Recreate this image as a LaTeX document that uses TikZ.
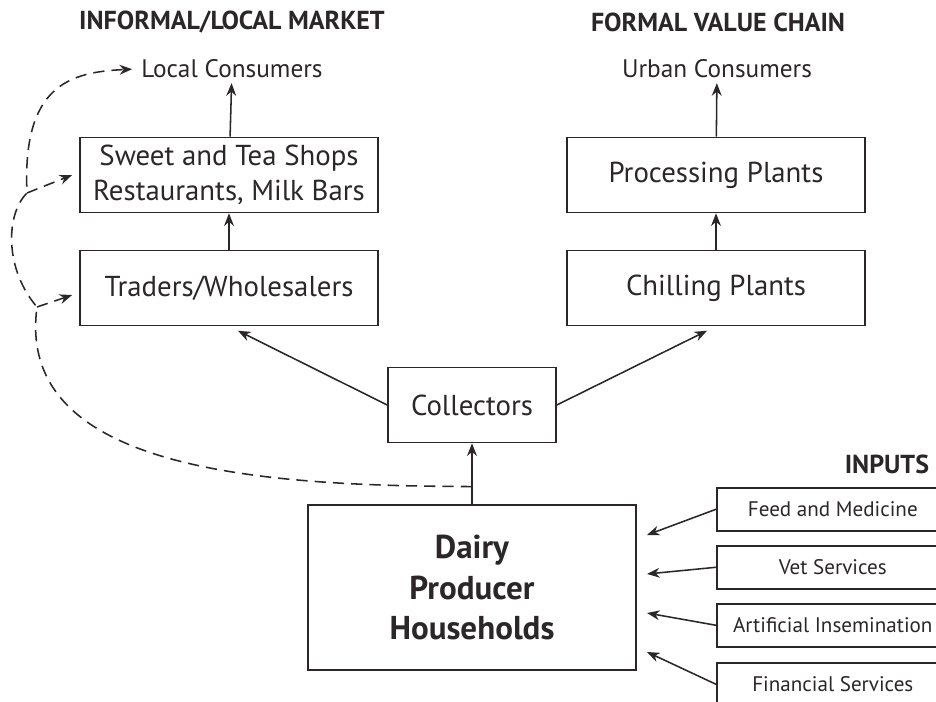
\documentclass[tikz,border=0pt]{standalone}
\usepackage{fontspec}
\setmainfont{PT Sans}
\usetikzlibrary{arrows.meta,calc}

\begin{document}
\begin{tikzpicture}[x=0.025cm,y=-0.025cm,
  box/.style={draw=ink, line width=1.1pt, align=center, text=ink,
    minimum width=7.45cm, minimum height=1.875cm, font=\fontsize{20.5}{25}\selectfont},
  inbox/.style={draw=ink, line width=1.1pt, text=ink, anchor=north west,
    minimum width=5.8cm, minimum height=1.075cm, font=\fontsize{15}{18}\selectfont},
  head/.style={text=ink, font=\fontsize{18.5}{22}\selectfont\bfseries},
  cons/.style={text=ink, font=\fontsize{18}{22}\selectfont},
  arr/.style={draw=ink, line width=1.1pt, -{Stealth[length=9pt,width=7pt]}},
  dasharr/.style={arr, dash pattern=on 8pt off 5pt}]

% Colori
\definecolor{ink}{HTML}{2B2728}

\useasboundingbox (0,0) rectangle (936,702);
\clip (0,0) rectangle (936,702);

% Titoli
\node[head] (hinf) at (232,22) {INFORMAL/LOCAL MARKET};
\node[head] (hfor) at (718,22) {FORMAL VALUE CHAIN};
\node[head, anchor=east] (hinp) at (934,464) {INPUTS};

% Mercato informale
\node[cons] (loc) at (232,69) {Local Consumers};
\node[box] (sweet) at (229,175) {Sweet and Tea Shops\\Restaurants, Milk Bars};
\node[box] (trad) at (229,288) {Traders/Wholesalers};

% Filiera formale
\node[cons] (urb) at (717,69) {Urban Consumers};
\node[box] (proc) at (716,175) {Processing Plants};
\node[box] (chill) at (716,288) {Chilling Plants};

% Raccoglitori e produttori
\node[box, minimum width=4.2cm] (coll) at (472,405) {Collectors};
\node[box, minimum width=8.2cm, minimum height=4.125cm,
  font=\fontsize{23.5}{29}\selectfont\bfseries] (dairy) at (472,587.5)
  {Dairy\\Producer\\Households};

% Input
\node[inbox] (feed) at (716,487) {Feed and Medicine};
\node[inbox] (vet) at (716,545) {Vet Services};
\node[inbox] (ai) at (716,603) {Artificial Insemination};
\node[inbox] (fin) at (716,662) {Financial Services};

% Frecce principali
\draw[arr] (trad) -- (sweet);
\draw[arr] (sweet) -- (loc);
\draw[arr] (chill) -- (proc);
\draw[arr] (proc) -- (urb);
\draw[arr] (dairy) -- (coll);
\draw[arr, shorten >=0.25cm] (coll.west) -- (trad.south);
\draw[arr, shorten >=0.25cm] (coll.east) -- (chill.south);

% Frecce degli input
\coordinate (dA) at (647,535);
\coordinate (dB) at (647,574);
\coordinate (dC) at (647,613);
\coordinate (dD) at (647,652);
\draw[arr] (feed.west) -- (dA);
\draw[arr] (vet.west) -- (dB);
\draw[arr] (ai.west) -- (dC);
\draw[arr] (fin.west) -- (dD);

% Vendita diretta (tratteggio)
\coordinate (split) at ($(dairy.north)!0.29!(coll.south)$);
\coordinate (jt) at (37,307);
\coordinate (js) at (27,193);
\draw[dasharr, shorten >=3pt] (split) .. controls (260,486) and (15,470) .. (jt)
  .. controls (5,270) and (5,215) .. (js)
  .. controls (22,85) and (70,72) .. (loc.west);
\draw[dasharr] (jt) -- ([xshift=-5pt,yshift=-5pt]trad.west);
\draw[dasharr] (js) -- ([xshift=-5pt]sweet.west);
\end{tikzpicture}
\end{document}
